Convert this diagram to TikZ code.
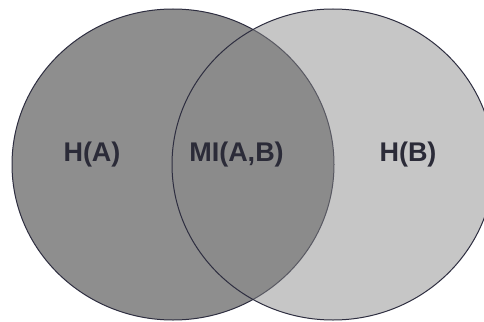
\documentclass[tikz,border=0pt]{standalone}
\usepackage{fontspec}
\setmainfont{Liberation Sans}
\definecolor{strokec}{HTML}{2E2E40}
\definecolor{textc}{HTML}{2B2B38}
\definecolor{fillA}{HTML}{8E8E8E}
\definecolor{fillB}{HTML}{888888}
\begin{document}
\begin{tikzpicture}[x=1pt,y=-1pt,
  setA/.style={fill=fillA,draw=strokec,line width=1pt},
  setB/.style={fill=fillB,fill opacity=0.48,draw=strokec,draw opacity=1,line width=1pt},
  lbl/.style={text=textc,font=\bfseries\fontsize{27}{32}\selectfont,inner sep=0pt}]
\useasboundingbox (0,0) rectangle (484,321);
\clip (0,0) rectangle (484,321);
\fill[white] (0,0) rectangle (484,321);
\draw[setA] (173,164.5) ellipse [x radius=161, y radius=155.5];
\draw[setB] (333,164.5) ellipse [x radius=161, y radius=155.5];
\node[lbl] (ha) at (92,154.5) {H(A)};
\node[lbl] (mi) at (236.5,154.5) {MI(A,B)};
\node[lbl] (hb) at (408,154.5) {H(B)};
\end{tikzpicture}
\end{document}
